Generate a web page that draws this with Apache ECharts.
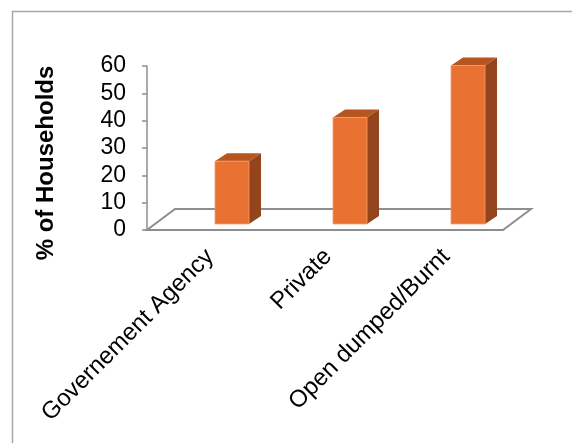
<!DOCTYPE html>
<html>
<head>
<meta charset="utf-8">
<script src="https://cdn.jsdelivr.net/npm/echarts@6/dist/echarts.min.js"></script>
<style>
html,body{margin:0;padding:0;background:#fff;}
#chart{width:572px;height:443px;}
</style>
</head>
<body>
<div id="chart"></div>
<script>
const categories = ['Governement Agency', 'Private', 'Open dumped/Burnt'];
const values = [23, 39, 58];
const yTicks = [0, 10, 20, 30, 40, 50, 60];
const yName = '% of Households';

const FONT = '"Liberation Sans", Arial, sans-serif';
const FRONT = '#E97132', TOP = '#B5551F', SIDE = '#93441C';
const BAR_W = 34, SHIFT_X = 22, SHIFT_Y = 6, DX = 12, DY = 8;
const FLOOR_DX = 28, FLOOR_DY = 21, FLOOR_L = -4, FLOOR_R = -2;

const chart = echarts.init(document.getElementById('chart'));

function floorItem(params, api) {
  const cs = params.coordSys;
  const y0 = cs.y + cs.height;
  const fl = cs.x + FLOOR_L, fr = cs.x + cs.width + FLOOR_R;
  return {
    type: 'polygon',
    shape: { points: [[fl, y0], [fr, y0], [fr + FLOOR_DX, y0 - FLOOR_DY], [fl + FLOOR_DX, y0 - FLOOR_DY]] },
    style: { fill: '#fff', stroke: '#8e8e8e', lineWidth: 2 },
    silent: true
  };
}

function barItem(params, api) {
  const i = api.value(0);
  const v = api.value(1);
  const base = api.coord([i, 0]);
  const top = api.coord([i, v]);
  const cx = base[0] + SHIFT_X;
  const x0 = cx - BAR_W / 2, x1 = cx + BAR_W / 2;
  const yb = base[1] - SHIFT_Y, yt = top[1] - SHIFT_Y;
  return {
    type: 'group',
    children: [
      { type: 'polygon', shape: { points: [[x1, yb], [x1 + DX, yb - DY], [x1 + DX, yt - DY], [x1, yt]] },
        style: { fill: SIDE } },
      { type: 'polygon', shape: { points: [[x0, yt], [x1, yt], [x1 + DX, yt - DY], [x0 + DX, yt - DY]] },
        style: { fill: TOP } },
      { type: 'rect', shape: { x: x0, y: yt, width: BAR_W, height: yb - yt },
        style: { fill: FRONT, stroke: '#F3A070', lineWidth: 0.8 } }
    ]
  };
}

chart.setOption({
  animation: false,
  backgroundColor: '#fff',
  graphic: [{
    type: 'rect', left: 10, top: 9,
    shape: { width: 700, height: 600 },
    style: { fill: 'none', stroke: '#a6a6a6', lineWidth: 1.5 },
    silent: true
  }],
  grid: { left: 151, width: 354, top: 66, bottom: 213 },
  xAxis: {
    type: 'category',
    data: categories,
    axisLine: { show: false },
    axisTick: { show: false },
    axisLabel: { rotate: 45, margin: 23, fontSize: 24, color: '#000', fontFamily: FONT, interval: 0 }
  },
  yAxis: {
    type: 'value',
    min: yTicks[0], max: yTicks[yTicks.length - 1], interval: 10,
    offset: 4,
    name: yName,
    nameLocation: 'middle',
    nameRotate: 90,
    nameGap: 89,
    nameTextStyle: { fontSize: 24, fontWeight: 'bold', color: '#000', fontFamily: FONT, padding: [0, 30, 0, 0] },
    axisLine: { show: true, lineStyle: { color: '#8e8e8e', width: 1.5 } },
    axisTick: { show: true, length: 5, lineStyle: { color: '#8e8e8e', width: 1.5 } },
    axisLabel: { margin: 21, fontSize: 23, color: '#000', fontFamily: FONT },
    splitLine: { show: false }
  },
  series: [
    { type: 'custom', renderItem: floorItem, data: [[0, 0]], z: 1, silent: true },
    { type: 'custom', renderItem: barItem, data: values.map((v, i) => [i, v]), z: 2 }
  ]
});
</script>
</body>
</html>
